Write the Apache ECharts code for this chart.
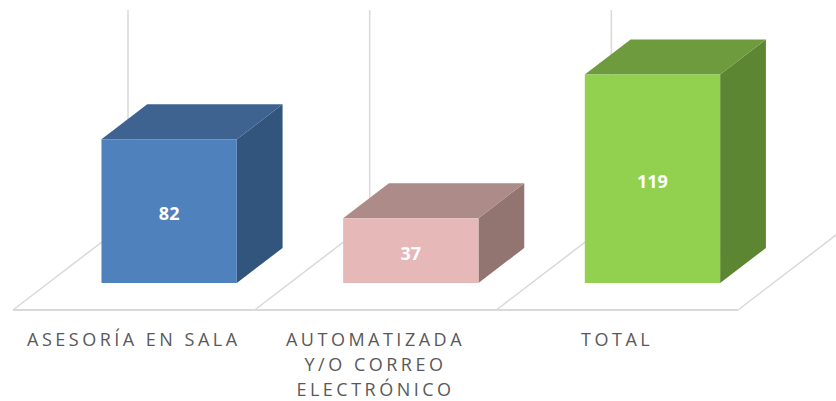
<!DOCTYPE html>
<html>
<head>
<meta charset="utf-8">
<script src="https://cdn.jsdelivr.net/npm/echarts@6.0.0/dist/echarts.min.js"></script>
<style>
  html, body { margin: 0; padding: 0; background: #ffffff; }
  #chart { width: 836px; height: 401px; }
  #chart text[fill="#595959"] { letter-spacing: 3.5px; }
</style>
</head>
<body>
<div id="chart"></div>
<script>
// ---- data ----
const categories = ['ASESORÍA EN SALA', 'AUTOMATIZADA\nY/O CORREO\nELECTRÓNICO', 'TOTAL'];
const values = [82, 37, 119];
const axisMax = 121;

// ---- styles ----
const frontColors = ['#4F81BD', '#E6B9B8', '#92D050'];
const topColors   = ['#3E6390', '#AD8B88', '#6E9B3D'];
const sideColors  = ['#32557E', '#927471', '#5D8633'];
const DEPTH = [115, -88];      // full floor depth vector (oblique projection)
const BAR_FRONT = 0.307;       // bar front position along depth
const BAR_BACK = 0.705;        // bar back position along depth
const BAR_WIDTH = 0.56;        // share of category band
const GRID_COLOR = '#d9d9d9';

const chart = echarts.init(document.getElementById('chart'), null, { renderer: 'svg' });

function floorItem(params, api) {
  const idx = params.dataIndex;
  const band = api.size([1, 0])[0];
  const base = api.coord([idx, 0]);
  const top = api.coord([idx, axisMax]);
  const left = base[0] - band / 2;
  const right = base[0] + band / 2;
  const y0 = base[1];
  const children = [];
  const boundaries = [left];
  if (idx === categories.length - 1) boundaries.push(right);
  boundaries.forEach(function (bx) {
    children.push({
      type: 'polyline',
      shape: { points: [[bx, y0], [bx + DEPTH[0], y0 + DEPTH[1]], [bx + DEPTH[0], top[1] + DEPTH[1]]] },
      style: { stroke: GRID_COLOR, lineWidth: 1.5, fill: null }
    });
  });
  children.push({
    type: 'line',
    shape: { x1: left, y1: y0, x2: right, y2: y0 },
    style: { stroke: GRID_COLOR, lineWidth: 2 }
  });
  return { type: 'group', children: children };
}

function barItem(params, api) {
  const idx = params.dataIndex;
  const val = api.value(1);
  const base = api.coord([idx, 0]);
  const topPt = api.coord([idx, val]);
  const bw = api.size([1, 0])[0] * BAR_WIDTH;
  const xl = base[0] - bw / 2, xr = base[0] + bw / 2;
  const y0 = base[1], y1 = topPt[1];
  const fx = DEPTH[0] * BAR_FRONT, fy = DEPTH[1] * BAR_FRONT;
  const bx = DEPTH[0] * BAR_BACK, by = DEPTH[1] * BAR_BACK;
  return {
    type: 'group',
    children: [
      {
        type: 'polygon',
        shape: { points: [[xr + fx, y1 + fy], [xr + bx, y1 + by], [xr + bx, y0 + by], [xr + fx, y0 + fy]] },
        style: { fill: sideColors[idx] }
      },
      {
        type: 'polygon',
        shape: { points: [[xl + fx, y1 + fy], [xr + fx, y1 + fy], [xr + bx, y1 + by], [xl + bx, y1 + by]] },
        style: { fill: topColors[idx] }
      },
      {
        type: 'rect',
        shape: { x: xl + fx, y: y1 + fy, width: bw, height: y0 - y1 },
        style: { fill: frontColors[idx] }
      },
      {
        type: 'text',
        x: base[0] + fx,
        y: (y0 + y1) / 2 + fy + 2,
        style: {
          text: String(values[idx]),
          fill: '#fff',
          font: 'bold 18px "Open Sans"',
          align: 'center',
          verticalAlign: 'middle'
        }
      }
    ]
  };
}

chart.setOption({
  animation: false,
  backgroundColor: '#ffffff',
  grid: { left: 13, right: 98, top: 98, bottom: 91 },
  xAxis: {
    type: 'category',
    data: categories,
    axisLine: { show: false },
    axisTick: { show: false },
    splitLine: { show: false },
    axisLabel: {
      color: '#595959',
      fontSize: 18,
      fontFamily: 'Open Sans',
      lineHeight: 25,
      margin: 16,
      interval: 0
    }
  },
  yAxis: {
    type: 'value',
    min: 0,
    max: axisMax,
    show: false
  },
  series: [
    {
      type: 'custom',
      z: 1,
      silent: true,
      clip: false,
      renderItem: floorItem,
      data: categories.map(function (c, i) { return [i, 0]; })
    },
    {
      type: 'custom',
      z: 2,
      clip: false,
      renderItem: barItem,
      data: values.map(function (v, i) { return [i, v]; })
    }
  ]
});
</script>
</body>
</html>
